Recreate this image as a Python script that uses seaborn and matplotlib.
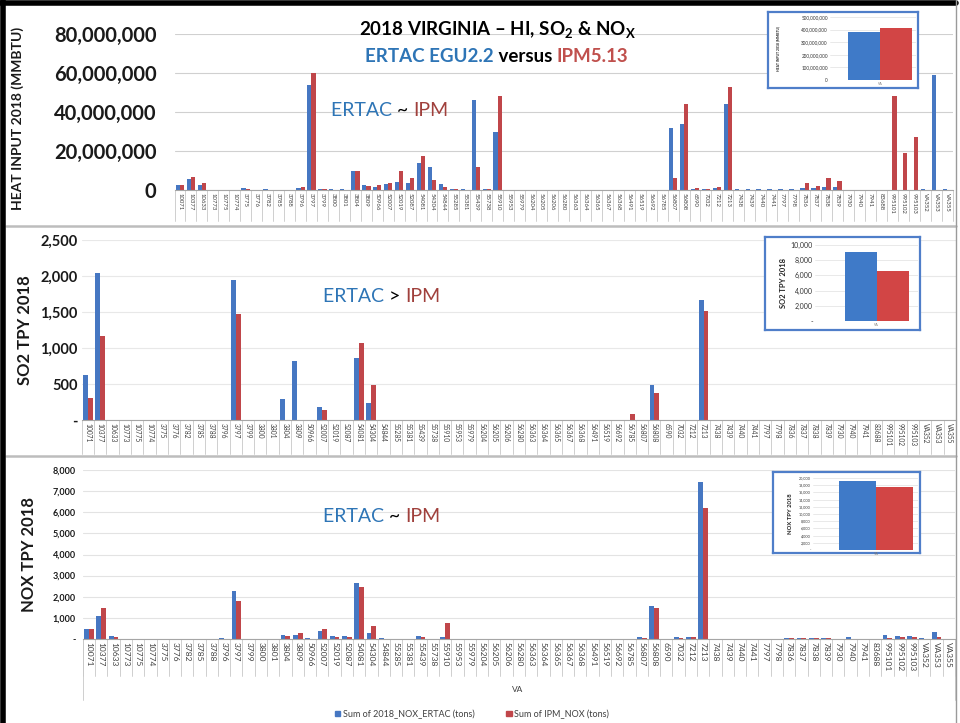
import matplotlib
matplotlib.use("Agg")
import matplotlib.pyplot as plt
import matplotlib.transforms as mtransforms
from matplotlib.patches import Rectangle
from matplotlib.lines import Line2D
import numpy as np
import pandas as pd
import seaborn as sns

sns.set_theme(style="white")
plt.rcParams['font.family'] = ['Lato', 'DejaVu Sans']
plt.rcParams['mathtext.fontset'] = 'custom'
plt.rcParams['mathtext.rm'] = 'Lato'
plt.rcParams['mathtext.bf'] = 'Lato:bold'

# ---------------- data ----------------
plants = ["10071", "10377", "10633", "10773", "10775", "10774", "3775", "3776", "3782", "3785",
          "3788", "3796", "3797", "3799", "3800", "3801", "3804", "3809", "50966", "52007",
          "52019", "52087", "54081", "54304", "54844", "55285", "55381", "55439", "55738", "55910",
          "55953", "55979", "56204", "56205", "56206", "56280", "56363", "56364", "56365", "56367",
          "56368", "56491", "56519", "56692", "56785", "56807", "56808", "6590", "7032", "7212",
          "7213", "7438", "7439", "7440", "7441", "7797", "7798", "7836", "7837", "7838",
          "7839", "7930", "7940", "7941", "83688", "995101", "995102", "995103", "VA352", "VA353",
          "VA355"]

# heat input, million MMBtu
hi_ertac = [2.5, 5.5, 2.5, 0.2, 0.1, 0.1, 1.0, 0.2, 0.3, 0.2,
            0.2, 1.2, 54.0, 0.5, 0.3, 0.3, 10.0, 2.5, 1.5, 3.0,
            4.0, 3.5, 14.0, 12.0, 3.0, 0.5, 0.3, 46.0, 0.5, 30.0,
            0.2, 0.2, 0.2, 0.2, 0.2, 0.2, 0.2, 0.2, 0.2, 0.2,
            0.2, 0.2, 0.2, 0.2, 0.2, 32.0, 34.0, 0.5, 0.5, 1.0,
            44.0, 0.3, 0.3, 0.3, 0.3, 0.3, 0.3, 1.0, 1.0, 1.5,
            1.5, 0.2, 0.2, 0.2, 0.2, 0.0, 0.0, 0.0, 0.5, 59.0,
            0.3]
hi_ipm = [2.8, 6.5, 3.5, 0.2, 0.1, 0.1, 0.5, 0.2, 0.2, 0.2,
          0.2, 1.5, 60.0, 0.3, 0.2, 0.2, 9.5, 2.0, 2.5, 3.5,
          9.5, 6.0, 17.5, 5.0, 1.5, 0.3, 0.2, 12.0, 0.3, 48.0,
          0.1, 0.1, 0.1, 0.1, 0.1, 0.1, 0.1, 0.1, 0.1, 0.1,
          0.1, 0.1, 0.1, 0.1, 0.1, 6.0, 44.0, 1.0, 0.3, 1.5,
          53.0, 0.2, 0.2, 0.2, 0.2, 0.2, 0.2, 3.5, 2.0, 6.0,
          4.5, 0.1, 0.1, 0.1, 0.1, 48.0, 19.0, 27.0, 0.0, 0.0,
          0.0]
# SO2, tons per year
so2_ertac = [620, 2040, 0, 0, 0, 0, 0, 0, 0, 0,
             0, 0, 1940, 0, 0, 0, 290, 820, 0, 180,
             0, 0, 860, 230, 0, 0, 0, 0, 0, 0,
             0, 0, 0, 0, 0, 0, 0, 0, 0, 0,
             0, 0, 0, 0, 0, 0, 480, 0, 0, 0,
             1660, 0, 0, 0, 0, 0, 0, 0, 0, 0,
             0, 0, 0, 0, 0, 0, 0, 0, 0, 0,
             0]
so2_ipm = [310, 1160, 0, 0, 0, 0, 0, 0, 0, 0,
           0, 0, 1470, 0, 0, 0, 0, 0, 0, 140,
           0, 0, 1070, 490, 0, 0, 0, 0, 0, 0,
           0, 0, 0, 0, 0, 0, 0, 0, 0, 0,
           0, 0, 0, 0, 90, 0, 370, 0, 0, 0,
           1510, 0, 0, 0, 0, 0, 0, 0, 0, 0,
           0, 0, 0, 0, 0, 0, 0, 0, 0, 0,
           0]
# NOx, tons per year
nox_ertac = [450, 1100, 150, 20, 20, 20, 10, 10, 10, 10,
             10, 30, 2250, 10, 10, 10, 200, 200, 30, 400,
             150, 150, 2650, 300, 30, 20, 20, 150, 20, 100,
             20, 10, 10, 10, 10, 10, 10, 10, 10, 10,
             10, 10, 10, 10, 10, 100, 1550, 10, 80, 100,
             7450, 10, 10, 10, 10, 10, 10, 30, 30, 30,
             30, 10, 80, 10, 10, 200, 150, 150, 30, 350,
             20]
nox_ipm = [450, 1450, 100, 10, 10, 10, 10, 10, 10, 10,
           10, 20, 1800, 10, 10, 10, 150, 300, 20, 450,
           100, 100, 2450, 600, 20, 10, 10, 100, 10, 750,
           10, 10, 10, 10, 10, 10, 10, 10, 10, 10,
           10, 10, 10, 10, 10, 50, 1450, 10, 50, 80,
           6200, 10, 10, 10, 10, 10, 10, 30, 30, 30,
           30, 10, 10, 10, 10, 50, 100, 80, 10, 100,
           10]

src_names = ["ERTAC", "IPM"]
BLUE = "#4677C2"
RED = "#C0464A"
IBLUE = "#3F7AC8"
IRED = "#D24545"


def long_df(a, b, scale=1.0):
    return pd.DataFrame({
        "plant": plants * 2,
        "value": [v * scale for v in a] + [v * scale for v in b],
        "source": [src_names[0]] * len(plants) + [src_names[1]] * len(plants),
    })


df_hi = long_df(hi_ertac, hi_ipm, 1e6)
df_so2 = long_df(so2_ertac, so2_ipm)
df_nox = long_df(nox_ertac, nox_ipm)

W, H = 960, 723
fig = plt.figure(figsize=(W / 100, H / 100), dpi=100)
fig.patch.set_facecolor("white")


def fx(px):
    return px / W


def fy(py):
    return 1 - py / H


def axes_px(x0, y0, x1, y1, **kw):
    # pixel box: left, top, right, bottom
    return fig.add_axes([fx(x0), fy(y1), (x1 - x0) / W, (y1 - y0) / H], **kw)


n = len(plants)


def main_panel(ax, df, ymax, yticks, fmt, tick_fs, tick_w, cat_fs, sep_len, ypad, gridc):
    sns.barplot(data=df, x="plant", y="value", hue="source", order=plants,
                hue_order=src_names, palette=[BLUE, RED], width=0.78,
                errorbar=None, saturation=1, ax=ax, legend=False, linewidth=0)
    ax.set_xlim(-0.5, n - 0.5)
    ax.set_ylim(0, ymax)
    ax.set_yticks(yticks)
    ax.set_yticklabels([fmt(v) for v in yticks], fontsize=tick_fs, fontweight=tick_w, color="#1a1a1a")
    ax.set_xticks(range(n))
    ax.set_xticklabels(plants, rotation=270, fontsize=cat_fs, color="#404040")
    ax.tick_params(axis="x", length=0, pad=2)
    ax.tick_params(axis="y", length=0, pad=ypad)
    ax.set_xlabel("")
    ax.set_ylabel("")
    for s in ["top", "right", "left"]:
        ax.spines[s].set_visible(False)
    ax.spines["bottom"].set_color("#a6a6a6")
    ax.spines["bottom"].set_linewidth(0.8)
    ax.yaxis.grid(True, color=gridc, linewidth=0.8)
    ax.set_axisbelow(True)
    tr = mtransforms.blended_transform_factory(ax.transData, ax.transAxes)
    for i in range(n + 1):
        ax.plot([i - 0.5, i - 0.5], [0, -sep_len], transform=tr, color="#c8c8c8",
                lw=0.6, clip_on=False)
    ax.set_facecolor("none")


def comma(v):
    return f"{v:,.0f}"


def dash_comma(v):
    return "-" if v == 0 else f"{v:,.0f}"


# ---- panel 1: heat input ----
ax1 = axes_px(174.5, 34, 952.5, 190)
main_panel(ax1, df_hi, 80e6, [0, 20e6, 40e6, 60e6, 80e6], comma, 14.5, "bold", 4.3, 0.2,
           13, "#d0d0d0")

# ---- panel 2: SO2 ----
ax2 = axes_px(81.8, 240, 956, 420)
main_panel(ax2, df_so2, 2500, [0, 500, 1000, 1500, 2000, 2500], dash_comma, 10.5, "bold", 4.8, 0.19,
           3, "#e8e8e8")

# ---- panel 3: NOx ----
ax3 = axes_px(82.8, 470, 955, 639)
main_panel(ax3, df_nox, 8000, [0, 1000, 2000, 3000, 4000, 5000, 6000, 7000, 8000], dash_comma,
           6.5, "bold", 6.0, 0.22, 5, "#e3e3e3")
tr3 = mtransforms.blended_transform_factory(ax3.transData, ax3.transAxes)
for xe in (-0.5, n - 0.5):
    ax3.plot([xe, xe], [0, -0.36], transform=tr3, color="#c8c8c8", lw=0.6, clip_on=False)
fig.text(fx(518), fy(690), "VA", fontsize=6, color="#404040", ha="center", va="center")

# axis titles
fig.text(fx(18), fy(118), "HEAT INPUT 2018 (MMBTU)", rotation=90, fontsize=10,
         fontweight="bold", ha="center", va="center", color="#1a1a1a")
fig.text(fx(25), fy(330), "SO2 TPY 2018", rotation=90, fontsize=12,
         fontweight="bold", ha="center", va="center", color="#1a1a1a")
fig.text(fx(29), fy(555), "NOX TPY 2018", rotation=90, fontsize=12,
         fontweight="bold", ha="center", va="center", color="#1a1a1a")

# ---- multicolour texts ----
renderer = fig.canvas.get_renderer()


def multicolor(xc, yc, pieces, **kw):
    items = []
    total = 0.0
    for s, c in pieces:
        t = fig.text(0, 0, s, color=c, ha="left", va="center", **kw)
        w = t.get_window_extent(renderer).width
        items.append((t, w))
        total += w
    cur = xc - total / 2
    for t, w in items:
        t.set_position((fx(cur), fy(yc)))
        cur += w


fig.text(fx(497), fy(30), r"2018 VIRGINIA – HI, SO$_\mathbf{2}$ & NO$_\mathbf{X}$",
         fontsize=13.5, fontweight="bold", ha="center", va="center", color="black")
multicolor(497, 57, [("ERTAC EGU2.2", "#2E75B6"), (" versus ", "black"), ("IPM5.13", "#C0504D")],
           fontsize=13.5, fontweight="bold")
multicolor(390, 110, [("ERTAC ", "#2E75B6"), ("~ ", "black"), ("IPM", "#A0403C")], fontsize=14)
multicolor(382, 296, [("ERTAC ", "#2E75B6"), ("> ", "black"), ("IPM", "#A0403C")], fontsize=14)
multicolor(382, 517, [("ERTAC ", "#2E75B6"), ("~ ", "black"), ("IPM", "#A0403C")], fontsize=14)


# ---- insets ----
def inset(box, inner, df, ymax, yticks, fmt, label, xlim, width, lab_x, lab_fs, tick_fs):
    bx = axes_px(*box)
    bx.set_xticks([])
    bx.set_yticks([])
    bx.set_facecolor("white")
    for s in bx.spines.values():
        s.set_color("#4F7EC9")
        s.set_linewidth(1.6)
    bx.set_zorder(5)
    ia = axes_px(*inner)
    ia.set_zorder(6)
    ia.set_facecolor("none")
    sns.barplot(data=df, x=["VA"] * len(df), y="value", hue="source", hue_order=src_names,
                palette=[IBLUE, IRED], estimator="sum", errorbar=None, width=width,
                saturation=1, ax=ia, legend=False, linewidth=0)
    ia.set_xlim(*xlim)
    ia.set_ylim(0, ymax)
    ia.set_yticks(yticks)
    ia.set_yticklabels([fmt(v) for v in yticks], fontsize=tick_fs, color="#333333")
    ia.set_xticks([0])
    ia.set_xticklabels(["VA"], fontsize=2.5, color="#777777")
    ia.tick_params(length=0, pad=1.5)
    ia.yaxis.grid(True, color="#e0e0e0", linewidth=0.5)
    ia.set_axisbelow(True)
    for s in ia.spines.values():
        s.set_visible(False)
    ia.set_xlabel("")
    ia.set_ylabel("")
    yc = (inner[1] + inner[3]) / 2
    fig.text(fx(lab_x), fy(yc), label, rotation=90, fontsize=lab_fs, fontweight="bold",
             ha="center", va="center", color="#222222", zorder=7)


inset((768, 12, 918, 88), (830, 17, 916, 80), df_hi, 500e6,
      [0, 100e6, 200e6, 300e6, 400e6, 500e6], comma, "HEAT INPUT 2018 (MMBTU)",
      (-0.58, 0.42), 0.74, 778, 2.4, 3.3)
inset((765, 237, 920, 330), (815, 245, 918, 321), df_so2, 10000,
      [0, 2000, 4000, 6000, 8000, 10000], dash_comma, "SO2 TPY 2018",
      (-0.6, 0.4), 0.62, 783, 5.5, 5.0)
inset((773, 472, 920, 553), (813, 478, 918, 550), df_nox, 20000,
      list(range(0, 20001, 2000)), dash_comma, "NOX TPY 2018",
      (-0.6, 0.4), 0.70, 790, 4.2, 2.7)

# ---- bottom legend ----
handles = [Rectangle((0, 0), 1, 1, color=BLUE), Rectangle((0, 0), 1, 1, color=RED)]
fig.legend(handles, ["Sum of 2018_NOX_ERTAC (tons)", "Sum of IPM_NOX (tons)"],
           loc="center", bbox_to_anchor=(fx(472), fy(714)), ncol=2, frameon=False,
           fontsize=6.5, handlelength=0.6, handleheight=0.6, handletextpad=0.3,
           columnspacing=3.5, labelcolor="#404040")

# ---- panel separators and frame ----
for yy in (226, 456):
    fig.add_artist(Line2D([fx(6), fx(956)], [fy(yy), fy(yy)], color="#bdbdbd", lw=1.8))
fig.add_artist(Line2D([fx(3), fx(3)], [0, 1], color="black", lw=4))
fig.add_artist(Line2D([0, fx(956)], [fy(3), fy(3)], color="black", lw=4))
fig.add_artist(Line2D([fx(956), fx(956)], [0, 1], color="#9a9a9a", lw=1))

fig.savefig("out.png", dpi=100, facecolor="white")
